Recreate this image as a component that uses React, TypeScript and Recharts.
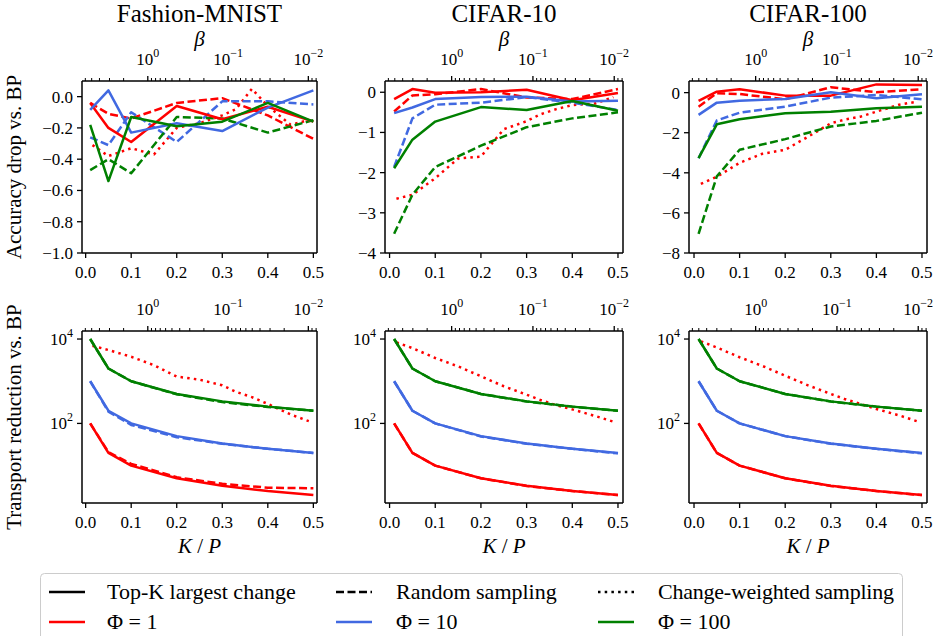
/**
 * Accuracy drop and transport reduction vs. BP for three datasets (2x3 panels)
 */

import { LineChart, Line, XAxis, YAxis } from 'recharts'

const FONT = 'Liberation Serif, DejaVu Serif, serif'
const RED = '#ff0000'
const BLUE = '#4169e1'
const GREEN = '#008000'
const DASH = '8 3.5'
const DOT = '2.5 4.2'

// K / P sampled for top-K and random sampling
const kValues = [0.01, 0.05, 0.1, 0.2, 0.3, 0.4, 0.5]
// K / P reached by the change-weighted sampling (one per β)
const weightedK = [0.015, 0.05, 0.1, 0.15, 0.2, 0.25, 0.3, 0.33, 0.365, 0.4, 0.45, 0.49]

// β axis ticks (log axis, β decreasing to the right)
const betaMajor = [1, 0.1, 0.01]
const betaMinor = [6, 5, 4, 3, 2, 0.9, 0.8, 0.7, 0.6, 0.5, 0.4, 0.3, 0.2, 0.09, 0.08, 0.07, 0.06, 0.05, 0.04, 0.03, 0.02, 0.009, 0.008]
const betaRange = [0.0078, 6.6]
const kTicks = [0, 0.1, 0.2, 0.3, 0.4, 0.5]

// --- Accuracy drop vs. BP ---
const fmAccTopK1 = [-0.04, -0.2, -0.29, -0.06, -0.145, -0.065, -0.16]
const fmAccTopK10 = [-0.085, 0.04, -0.23, -0.17, -0.22, -0.07, 0.04]
const fmAccTopK100 = [-0.18, -0.54, -0.13, -0.19, -0.16, -0.04, -0.16]
const fmAccRand1 = [-0.04, -0.11, -0.14, -0.04, -0.01, -0.12, -0.27]
const fmAccRand10 = [-0.26, -0.31, -0.1, -0.29, -0.03, -0.03, -0.05]
const fmAccRand100 = [-0.47, -0.4, -0.49, -0.13, -0.14, -0.23, -0.15]
const fmAccWeighted1 = [-0.31, -0.38, -0.33, -0.37, -0.2, -0.17, -0.12, -0.08, 0.05, -0.06, -0.18, -0.15]

const c10AccTopK1 = [-0.17, 0.08, -0.01, 0, 0.06, -0.2, -0.02]
const c10AccTopK10 = [-0.52, -0.38, -0.17, -0.12, -0.11, -0.23, -0.21]
const c10AccTopK100 = [-1.89, -1.18, -0.73, -0.37, -0.44, -0.22, -0.46]
const c10AccRand1 = [-0.48, -0.08, -0.05, 0.08, -0.13, -0.17, 0.08]
const c10AccRand10 = [-1.86, -0.65, -0.31, -0.26, -0.12, -0.26, -0.44]
const c10AccRand100 = [-3.52, -2.55, -1.86, -1.33, -0.87, -0.65, -0.5]
const c10AccWeighted1 = [-2.65, -2.55, -2.14, -1.65, -1.6, -0.92, -0.72, -0.55, -0.42, -0.32, -0.28, -0.12]

const c100AccTopK1 = [-0.41, 0.05, 0.17, -0.15, -0.15, 0.41, 0.38]
const c100AccTopK10 = [-1.11, -0.5, -0.4, -0.32, 0.02, -0.28, -0.08]
const c100AccTopK100 = [-3.27, -1.58, -1.33, -1.03, -0.95, -0.78, -0.7]
const c100AccRand1 = [-0.7, -0.03, -0.07, -0.33, 0.27, 0.02, 0.17]
const c100AccRand10 = [-3.27, -1.39, -1.0, -0.7, -0.25, -0.12, -0.33]
const c100AccRand100 = [-7.04, -4.18, -2.85, -2.32, -1.69, -1.41, -1.0]
const c100AccWeighted1 = [-4.55, -4.2, -3.5, -3.05, -2.85, -2.2, -1.53, -1.35, -1.2, -0.95, -0.6, -0.45]

// --- Transport reduction vs. BP ---
const fmTrTopK1 = [100, 20, 10, 5, 3.33, 2.5, 2]
const fmTrTopK10 = [1000, 200, 100, 50, 33.3, 25, 20]
const fmTrTopK100 = [10000, 2000, 1000, 500, 333, 250, 200]
const fmTrRand1 = [100, 21, 11, 5.3, 3.7, 3.0, 2.9]
const fmTrRand10 = [1000, 190, 92, 47, 33, 25, 20]
const fmTrRand100 = [10000, 2000, 1000, 490, 320, 245, 200]
const fmTrWeighted1 = [6900, 5500, 3800, 2400, 1290, 1090, 800, 560, 420, 290, 163, 113]

const c10TrTopK1 = [100, 20, 10, 5, 3.33, 2.5, 2]
const c10TrTopK10 = [1000, 200, 100, 50, 33.3, 25, 20]
const c10TrTopK100 = [10000, 2000, 1000, 500, 333, 250, 200]
const c10TrRand1 = [100, 20, 10, 5, 3.3, 2.5, 2]
const c10TrRand10 = [1000, 200, 100, 49, 33, 25, 19.5]
const c10TrRand100 = [10000, 2000, 1000, 500, 330, 250, 200]
const c10TrWeighted1 = [8300, 6100, 3550, 2250, 1310, 760, 480, 360, 270, 215, 150, 110]

const c100TrTopK1 = [100, 20, 10, 5, 3.33, 2.5, 2]
const c100TrTopK10 = [1000, 200, 100, 50, 33.3, 25, 20]
const c100TrTopK100 = [10000, 2000, 1000, 500, 333, 250, 200]
const c100TrRand1 = [100, 20, 10, 5, 3.3, 2.5, 2]
const c100TrRand10 = [1000, 200, 100, 50, 33, 25, 19.5]
const c100TrRand100 = [10000, 2000, 1000, 500, 330, 250, 200]
const c100TrWeighted1 = [8800, 6300, 3700, 2300, 1350, 800, 500, 380, 290, 220, 155, 112]

type Series = { ks: number[]; vs: number[]; color: string; dash?: string }

function group(t1: number[], t10: number[], t100: number[], r1: number[], r10: number[], r100: number[], w1: number[]): Series[] {
  return [
    { ks: weightedK, vs: w1, color: RED, dash: DOT },
    { ks: kValues, vs: r1, color: RED, dash: DASH },
    { ks: kValues, vs: r10, color: BLUE, dash: DASH },
    { ks: kValues, vs: r100, color: GREEN, dash: DASH },
    { ks: kValues, vs: t1, color: RED },
    { ks: kValues, vs: t10, color: BLUE },
    { ks: kValues, vs: t100, color: GREEN },
  ]
}

const PADL = 70
const PADR = 20
const PADT = 50
const PADB = 40

const cols = [
  { x: 82, w: 235, xDomain: [-0.008, 0.508], title: 'Fashion-MNIST' },
  { x: 385, w: 238, xDomain: [-0.01, 0.511], title: 'CIFAR-10' },
  { x: 689, w: 238, xDomain: [-0.011, 0.511], title: 'CIFAR-100' },
]
const rows = [
  { y: 81, h: 172 },
  { y: 331, h: 172 },
]

const minus = (s: string) => s.replace('-', '\u2212')

function sup(base: string, exp: string) {
  return (
    <>
      <tspan>{base}</tspan>
      <tspan dy={-8} fontSize={12}>{exp}</tspan>
    </>
  )
}

const txt = { fontFamily: FONT, fill: '#000' }

function makeLeftTick(fmt: (v: number) => React.ReactNode) {
  return (props: any) => {
    const { x, y, payload } = props
    return (
      <g>
        <line x1={x} y1={y} x2={x - 5} y2={y} stroke="#000" strokeWidth={1.3} />
        <text x={x - 9} y={y + 6} textAnchor="end" fontSize={17} style={txt}>
          {fmt(payload.value)}
        </text>
      </g>
    )
  }
}

function BottomTick(props: any) {
  const { x, y, payload } = props
  return (
    <g>
      <line x1={x} y1={y} x2={x} y2={y + 5} stroke="#000" strokeWidth={1.3} />
      <text x={x} y={y + 25} textAnchor="middle" fontSize={17} style={txt}>
        {payload.value.toFixed(1)}
      </text>
    </g>
  )
}

// the β axis is linear in log10(β); tick values are log10 of the β ticks
function BetaTick(props: any) {
  const { x, y, payload } = props
  const e = payload.value
  const major = Math.abs(e - Math.round(e)) < 1e-6
  if (!major) return <line x1={x} y1={y} x2={x} y2={y - 3} stroke="#000" strokeWidth={1} />
  return (
    <g>
      <line x1={x} y1={y} x2={x} y2={y - 5} stroke="#000" strokeWidth={1.3} />
      <text x={x} y={y - 16} textAnchor="middle" fontSize={17} style={txt}>
        {sup('10', minus(String(Math.round(e))))}
      </text>
    </g>
  )
}

interface PanelProps {
  col: number
  row: number
  series: Series[]
  yDomain: number[]
  yTicks: number[]
  yLog?: boolean
  fmt: (v: number) => React.ReactNode
}

function Panel({ col, row, series, yDomain, yTicks, yLog, fmt }: PanelProps) {
  const c = cols[col]
  const r = rows[row]
  const axisLine = { stroke: '#000', strokeWidth: 1.5 }
  return (
    <div style={{ position: 'absolute', left: c.x - PADL, top: r.y - PADT }}>
      <LineChart
        width={c.w + PADL + PADR}
        height={r.h + PADT + PADB}
        margin={{ top: 0, right: PADR - 1, bottom: 0, left: 0 }}
      >
        <XAxis
          xAxisId="beta"
          orientation="top"
          dataKey="k"
          type="number"
          reversed
          domain={betaRange.map(Math.log10)}
          allowDataOverflow
          ticks={[...betaMajor, ...betaMinor].map(Math.log10)}
          interval={0}
          height={PADT}
          tickSize={0}
          tickMargin={0}
          tickLine={false}
          axisLine={axisLine}
          tick={BetaTick}
        />
        <XAxis
          xAxisId="k"
          dataKey="k"
          type="number"
          domain={c.xDomain}
          allowDataOverflow
          ticks={kTicks}
          interval={0}
          height={PADB}
          tickSize={0}
          tickMargin={0}
          tickLine={false}
          axisLine={axisLine}
          tick={BottomTick}
        />
        <YAxis
          yAxisId="v"
          type="number"
          scale={yLog ? 'log' : 'linear'}
          domain={yDomain}
          allowDataOverflow
          ticks={yTicks}
          interval={0}
          width={PADL}
          tickSize={0}
          tickMargin={0}
          tickLine={false}
          axisLine={axisLine}
          tick={makeLeftTick(fmt)}
        />
        <YAxis yAxisId="r" orientation="right" type="number" domain={[0, 1]} width={1} tick={false} tickLine={false} axisLine={axisLine} />
        {series.map((s, i) => (
          <Line
            key={i}
            xAxisId="k"
            yAxisId="v"
            data={s.ks.map((k, j) => ({ k, v: s.vs[j] }))}
            dataKey="v"
            type="linear"
            stroke={s.color}
            strokeWidth={2.5}
            strokeDasharray={s.dash}
            strokeLinejoin="round"
            dot={false}
            activeDot={false}
            isAnimationActive={false}
          />
        ))}
      </LineChart>
    </div>
  )
}

const fmt1 = (v: number) => minus(v.toFixed(1))
const fmt0 = (v: number) => minus(v.toFixed(0))
const fmtLog = (v: number) => sup('10', String(Math.round(Math.log10(v))))

const LOG_DOMAIN = [1.3, 15500]
const LOG_TICKS = [100, 10000]

export default function App() {
  const colCenter = (i: number) => cols[i].x + cols[i].w / 2
  return (
    <div style={{ position: 'absolute', left: 0, top: 0, width: 933, height: 636, overflow: 'hidden', background: '#fff', fontFamily: FONT }}>
      <Panel col={0} row={0} series={group(fmAccTopK1, fmAccTopK10, fmAccTopK100, fmAccRand1, fmAccRand10, fmAccRand100, fmAccWeighted1)} yDomain={[-1, 0.1]} yTicks={[-1, -0.8, -0.6, -0.4, -0.2, 0]} fmt={fmt1} />
      <Panel col={1} row={0} series={group(c10AccTopK1, c10AccTopK10, c10AccTopK100, c10AccRand1, c10AccRand10, c10AccRand100, c10AccWeighted1)} yDomain={[-4, 0.28]} yTicks={[-4, -3, -2, -1, 0]} fmt={fmt0} />
      <Panel col={2} row={0} series={group(c100AccTopK1, c100AccTopK10, c100AccTopK100, c100AccRand1, c100AccRand10, c100AccRand100, c100AccWeighted1)} yDomain={[-8, 0.58]} yTicks={[-8, -6, -4, -2, 0]} fmt={fmt0} />
      <Panel col={0} row={1} series={group(fmTrTopK1, fmTrTopK10, fmTrTopK100, fmTrRand1, fmTrRand10, fmTrRand100, fmTrWeighted1)} yDomain={LOG_DOMAIN} yTicks={LOG_TICKS} yLog fmt={fmtLog} />
      <Panel col={1} row={1} series={group(c10TrTopK1, c10TrTopK10, c10TrTopK100, c10TrRand1, c10TrRand10, c10TrRand100, c10TrWeighted1)} yDomain={LOG_DOMAIN} yTicks={LOG_TICKS} yLog fmt={fmtLog} />
      <Panel col={2} row={1} series={group(c100TrTopK1, c100TrTopK10, c100TrTopK100, c100TrRand1, c100TrRand10, c100TrRand100, c100TrWeighted1)} yDomain={LOG_DOMAIN} yTicks={LOG_TICKS} yLog fmt={fmtLog} />

      <svg width={933} height={636} style={{ position: 'absolute', left: 0, top: 0, pointerEvents: 'none', fontFamily: FONT }} fill="#000">
        {cols.map((c, i) => (
          <g key={c.title}>
            <text x={colCenter(i)} y={22} textAnchor="middle" fontSize={25} style={txt}>{c.title}</text>
            <text x={colCenter(i)} y={46} textAnchor="middle" fontSize={21} fontStyle="italic" style={txt}>β</text>
            <text x={colCenter(i)} y={553} textAnchor="middle" fontSize={21} style={txt}>
              <tspan fontStyle="italic">K</tspan> / <tspan fontStyle="italic">P</tspan>
            </text>
          </g>
        ))}
        <text transform="translate(21,167) rotate(-90)" textAnchor="middle" fontSize={21} style={txt}>Accuracy drop vs. BP</text>
        <text transform="translate(21,417) rotate(-90)" textAnchor="middle" fontSize={21} style={txt}>Transport reduction vs. BP</text>

        <rect x={40.5} y={573.5} width={862} height={80} rx={4} fill="#fff" fillOpacity={0.8} stroke="#cccccc" />
        <line x1={49} y1={592} x2={85} y2={592} stroke="#000" strokeWidth={2.5} />
        <text x={107} y={599} fontSize={22} style={txt}>Top-K largest change</text>
        <line x1={336} y1={592} x2={372} y2={592} stroke="#000" strokeWidth={2.5} strokeDasharray={DASH} />
        <text x={396} y={599} fontSize={22} style={txt}>Random sampling</text>
        <line x1={598} y1={592} x2={634} y2={592} stroke="#000" strokeWidth={2.5} strokeDasharray={DOT} />
        <text x={658} y={599} fontSize={22} textLength={236} style={txt}>Change-weighted sampling</text>
        <line x1={49} y1={622} x2={85} y2={622} stroke={RED} strokeWidth={2.5} />
        <text x={107} y={629} fontSize={22} style={txt}>Φ = 1</text>
        <line x1={336} y1={622} x2={372} y2={622} stroke={BLUE} strokeWidth={2.5} />
        <text x={396} y={629} fontSize={22} style={txt}>Φ = 10</text>
        <line x1={598} y1={622} x2={634} y2={622} stroke={GREEN} strokeWidth={2.5} />
        <text x={658} y={629} fontSize={22} style={txt}>Φ = 100</text>
      </svg>
    </div>
  )
}
